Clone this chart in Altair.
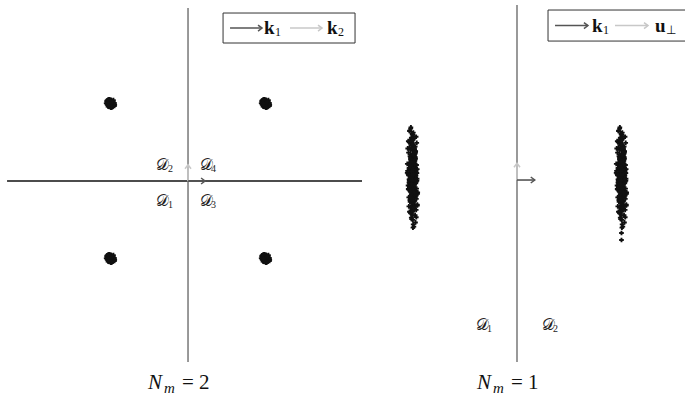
import altair as alt
import pandas as pd

SERIF = "Liberation Serif"
SCRIPT_D = "𝒟"
DARK = "#555555"
LIGHT = "#c8c8c8"
AXIS_GREY = "#808080"
AXIS_DARK = "#111111"
POINT = "#111111"

# standard-normal draws, typed out once and reused for every symbol cloud
NOISE_U = [
    0.12, -0.85, 1.34, -0.27, 0.63, -1.52, 0.05, 0.91, -0.44, 1.87,
    -0.09, -1.11, 0.38, 0.76, -0.68, 2.21, -0.31, 0.17, -1.93, 0.54,
    1.02, -0.57, 0.29, -0.02, -1.28, 0.84, 1.45, -0.73, 0.21, -0.36,
    0.69, -2.18, 0.47, 1.16, -0.95, 0.08, -0.19, 1.63, -1.39, 0.33,
    0.99, -0.61, -0.14, 0.58, -1.07, 1.25, -0.48, 0.03, 2.04, -0.81,
    0.41, -1.66, 0.72, -0.24, 1.38, -0.05, -0.89, 0.26, 0.87, -1.21,
    0.15, -0.52, 1.71, -0.33, 0.49, -2.43, 0.94, -0.11, 0.31, -0.77,
    1.09, -1.46, 0.57, 0.01, -0.63, 1.52, -0.28, -0.98, 0.66, 0.19,
    -1.74, 1.21, -0.41, 0.36, 0.81, -0.06, -1.33, 0.52, 1.94, -0.69,
    0.23, -0.16, 1.03, -0.91, 0.44, -1.58, 0.11, 0.74, -0.37, 2.37,
    -1.02, 0.28, 0.62, -0.53, -0.21, 1.29, -1.17, 0.39, 0.07, -0.83,
    1.57, -0.46, 0.97, -2.02, 0.18, -0.29, 0.85, -0.65, 1.13, -1.41,
    0.34, -0.04, 0.59, -0.97, 1.78, -0.23, -1.25, 0.46, 0.13, -0.58,
    1.06, -1.85, 0.71, -0.12, 0.25, -0.75, 1.41, -0.39, -1.05, 0.55,
    2.12, -0.17, 0.43, -1.49, 0.82, -0.32, 0.09, -0.71, 1.19, -1.13,
]
NOISE_V = [
    -0.42, 1.08, 0.27, -1.61, 0.73, -0.15, 1.49, -0.88, 0.04, -0.56,
    2.08, -1.19, 0.36, -0.03, 0.92, -1.37, -0.25, 0.61, 1.71, -0.79,
    -0.11, 0.48, -2.27, 0.83, 0.16, -0.64, 1.23, -0.35, 0.57, -1.02,
    -0.47, 1.36, 0.09, -1.83, 0.68, 0.22, -0.72, 1.92, -0.26, 0.44,
    -1.15, 0.78, -0.07, 1.14, -0.59, 0.31, -1.47, 0.95, -0.18, 2.31,
    -0.92, 0.13, 0.51, -1.26, 0.86, -0.38, 1.58, -0.01, -0.67, 0.39,
    -2.06, 1.01, -0.21, 0.64, -0.84, 0.19, 1.31, -1.54, 0.45, -0.13,
    0.77, -0.49, 1.84, -1.09, 0.02, -0.31, 0.96, -1.72, 0.53, 0.24,
    -0.61, 1.17, -0.44, -1.31, 0.71, 0.06, 2.19, -0.87, 0.35, -0.22,
    1.44, -1.06, 0.62, -0.09, -0.54, 1.67, -1.42, 0.28, 0.89, -0.74,
    -0.16, 1.27, -2.38, 0.42, 0.11, -0.96, 0.67, -0.28, 1.53, -0.62,
    0.17, -1.22, 0.93, -0.41, 2.01, -0.05, -0.83, 0.32, 1.11, -1.67,
    0.58, -0.19, 0.74, -1.12, 0.21, 1.62, -0.51, -0.34, 0.99, -1.95,
    0.47, 0.08, -0.69, 1.35, -0.27, 0.81, -1.38, 0.14, 1.76, -0.81,
    0.37, -0.12, -1.58, 0.63, 1.04, -0.46, 0.26, -1.01, 1.21, -0.23,
]

# ---------- left panel: N_m = 2 ----------
L_W, L_H = 370, 401
L_XDOM = [-2.426, 2.348]
L_YDOM = [-2.839, 2.336]
L_CENTERS_X = [-1.0, 1.0, -1.0, 1.0]
L_CENTERS_Y = [1.0, 1.0, -1.0, -1.0]
L_SIGMA = 0.023
L_REGION_SUB = ["1", "2", "3", "4"]
L_REGION_X = [-0.323, -0.323, 0.232, 0.232]
L_REGION_Y = [-0.258, 0.206, -0.258, 0.206]

# ---------- right panel: N_m = 1 ----------
R_W, R_H = 315, 401
R_XDOM = [-1.407, 1.608]
R_YDOM = [-2.115, 1.723]
R_CENTERS_X = [-1.0, 1.0]
R_CENTER_Y = 0.03
R_SIGMA_X = 0.021
R_SIGMA_Y = 0.2
R_STRAY_X = [1.0, 1.0]
R_STRAY_Y = [-0.507, -0.574]
R_REGION_SUB = ["1", "2"]
R_REGION_X = [-0.335, 0.297]
R_REGION_Y = [-1.388, -1.388]

CHEVRON = "M-1,-0.75L0,0L-1,0.75"


def build_panel(width, height, xdom, ydom, rules, heads, points, box,
                mains, subs, legend_keys, title_at, title_value):
    xs = alt.Scale(domain=xdom, nice=False, zero=False)
    ys = alt.Scale(domain=ydom, nice=False, zero=False)

    def X(f="x"):
        return alt.X(f"{f}:Q", scale=xs, axis=None)

    def Y(f="y"):
        return alt.Y(f"{f}:Q", scale=ys, axis=None)

    plain_rules = [r for r in rules if not r.get("legend")]
    legend_rules = [r for r in rules if r.get("legend")]

    layers = []
    layers.append(
        alt.Chart(pd.DataFrame(plain_rules)).mark_rule().encode(
            x=X(), x2="x2:Q", y=Y(), y2="y2:Q",
            color=alt.Color("c:N", scale=None),
            strokeWidth=alt.StrokeWidth("w:Q", scale=None),
        )
    )
    layers.append(
        alt.Chart(pd.DataFrame(points)).mark_point(
            shape="cross", filled=True, size=22, color=POINT, opacity=1
        ).encode(x=X(), y=Y())
    )
    layers.append(
        alt.Chart(pd.DataFrame([box])).mark_rect(
            fill="white", stroke="#333333", strokeWidth=1, clip=True
        ).encode(x=X(), x2="x2:Q", y=Y(), y2="y2:Q")
    )
    # legend arrow shafts sit on top of the legend box
    layers.append(
        alt.Chart(pd.DataFrame(legend_rules)).mark_rule().encode(
            x=X(), x2="x2:Q", y=Y(), y2="y2:Q",
            color=alt.Color("c:N", scale=None),
            strokeWidth=alt.StrokeWidth("w:Q", scale=None),
        )
    )
    layers.append(
        alt.Chart(pd.DataFrame(heads)).mark_point(
            shape=CHEVRON, filled=False, size=64, strokeWidth=1.5, opacity=1
        ).encode(
            x=X(), y=Y(),
            angle=alt.Angle("angle:Q", scale=None),
            color=alt.Color("c:N", scale=None),
        )
    )
    # region names  D_i
    layers.append(
        alt.Chart(pd.DataFrame(mains)).mark_text(
            font=SERIF, fontSize=16, align="center", baseline="middle", color="#222"
        ).encode(x=X(), y=Y(), text="t:N")
    )
    layers.append(
        alt.Chart(pd.DataFrame(subs)).mark_text(
            font=SERIF, fontSize=10, align="left", baseline="middle",
            dx=5, dy=4, color="#222"
        ).encode(x=X(), y=Y(), text="t:N")
    )
    # legend labels: bold vector name and its subscript
    layers.append(
        alt.Chart(pd.DataFrame(legend_keys)).mark_text(
            font=SERIF, fontSize=19, fontWeight="bold", align="left",
            baseline="middle", color="#111"
        ).encode(x=X(), y=Y(), text="t:N")
    )
    layers.append(
        alt.Chart(pd.DataFrame(legend_keys)).mark_text(
            font=SERIF, fontSize=12, align="left", baseline="middle",
            dx=11, dy=4, color="#111"
        ).encode(x=X(), y=Y(), text="s:N")
    )
    # panel caption  N_m = value
    tdf = pd.DataFrame([{"x": title_at[0], "y": title_at[1],
                         "n": "N", "m": "m", "v": f"= {title_value}"}])
    layers.append(
        alt.Chart(tdf).mark_text(
            font=SERIF, fontSize=21, fontStyle="italic", align="left",
            baseline="alphabetic", color="#111"
        ).encode(x=X(), y=Y(), text="n:N")
    )
    layers.append(
        alt.Chart(tdf).mark_text(
            font=SERIF, fontSize=15, fontStyle="italic", align="left",
            baseline="alphabetic", dx=16, dy=4, color="#111"
        ).encode(x=X(), y=Y(), text="m:N")
    )
    layers.append(
        alt.Chart(tdf).mark_text(
            font=SERIF, fontSize=21, align="left",
            baseline="alphabetic", dx=34, color="#111"
        ).encode(x=X(), y=Y(), text="v:N")
    )
    return alt.layer(*layers).properties(width=width, height=height)


# ----- left panel data -----
left_points = []
for cx, cy in zip(L_CENTERS_X, L_CENTERS_Y):
    for u, v in zip(NOISE_U, NOISE_V):
        left_points.append({"x": cx + L_SIGMA * u, "y": cy + L_SIGMA * v})

left_rules = [
    {"x": -2.335, "x2": 2.245, "y": 0.0, "y2": 0.0, "c": AXIS_DARK, "w": 1.4},
    {"x": 0.0, "x2": 0.0, "y": -2.335, "y2": 2.232, "c": AXIS_GREY, "w": 1.6},
    {"x": 0.0, "x2": 0.0, "y": 0.0, "y2": 0.21, "c": LIGHT, "w": 1.6},
    {"x": 0.0, "x2": 0.22, "y": 0.0, "y2": 0.0, "c": DARK, "w": 1.6},
    {"x": 0.542, "x2": 0.955, "y": 1.974, "y2": 1.974, "c": DARK, "w": 1.5, "legend": True},
    {"x": 1.316, "x2": 1.729, "y": 1.974, "y2": 1.974, "c": LIGHT, "w": 1.5, "legend": True},
]
left_heads = [
    {"x": 0.0, "y": 0.21, "angle": 270, "c": LIGHT},
    {"x": 0.22, "y": 0.0, "angle": 0, "c": DARK},
    {"x": 0.955, "y": 1.974, "angle": 0, "c": DARK},
    {"x": 1.729, "y": 1.974, "angle": 0, "c": LIGHT},
]
left_box = {"x": 0.452, "x2": 2.155, "y": 1.781, "y2": 2.168}
left_mains = [{"x": x, "y": y, "t": SCRIPT_D} for x, y in zip(L_REGION_X, L_REGION_Y)]
left_subs = [{"x": x, "y": y, "t": s} for x, y, s in zip(L_REGION_X, L_REGION_Y, L_REGION_SUB)]
left_keys = [
    {"x": 0.981, "y": 1.974, "t": "k", "s": "1"},
    {"x": 1.794, "y": 1.974, "t": "k", "s": "2"},
]

left = build_panel(
    L_W, L_H, L_XDOM, L_YDOM,
    left_rules, left_heads, left_points, left_box,
    left_mains, left_subs, left_keys, (-0.516, -2.684), 2,
)

# ----- right panel data -----
right_points = []
for cx in R_CENTERS_X:
    for u, v in list(zip(NOISE_U, NOISE_V)) + list(zip(NOISE_V, NOISE_U)):
        right_points.append({"x": cx + R_SIGMA_X * u, "y": R_CENTER_Y + R_SIGMA_Y * v})
for sx, sy in zip(R_STRAY_X, R_STRAY_Y):
    right_points.append({"x": sx, "y": sy})

right_rules = [
    {"x": 0.0, "x2": 0.0, "y": -1.742, "y2": 1.675, "c": AXIS_GREY, "w": 1.6},
    {"x": 0.0, "x2": 0.0, "y": 0.0, "y2": 0.16, "c": LIGHT, "w": 1.6},
    {"x": 0.0, "x2": 0.17, "y": 0.0, "y2": 0.0, "c": DARK, "w": 1.6},
    {"x": 0.364, "x2": 0.679, "y": 1.478, "y2": 1.478, "c": DARK, "w": 1.5, "legend": True},
    {"x": 0.938, "x2": 1.254, "y": 1.478, "y2": 1.478, "c": LIGHT, "w": 1.5, "legend": True},
]
right_heads = [
    {"x": 0.0, "y": 0.16, "angle": 270, "c": LIGHT},
    {"x": 0.17, "y": 0.0, "angle": 0, "c": DARK},
    {"x": 0.679, "y": 1.478, "angle": 0, "c": DARK},
    {"x": 1.254, "y": 1.478, "angle": 0, "c": LIGHT},
]
right_box = {"x": 0.297, "x2": 1.75, "y": 1.330, "y2": 1.627}
right_mains = [{"x": x, "y": y, "t": SCRIPT_D} for x, y in zip(R_REGION_X, R_REGION_Y)]
right_subs = [{"x": x, "y": y, "t": s} for x, y, s in zip(R_REGION_X, R_REGION_Y, R_REGION_SUB)]
right_keys = [
    {"x": 0.718, "y": 1.478, "t": "k", "s": "1"},
    {"x": 1.321, "y": 1.478, "t": "u", "s": "⊥"},
]

right = build_panel(
    R_W, R_H, R_XDOM, R_YDOM,
    right_rules, right_heads, right_points, right_box,
    right_mains, right_subs, right_keys, (-0.383, -2.0), 1,
)

chart = (
    alt.hconcat(left, right, spacing=0, padding=0, background="white")
    .configure_view(stroke=None)
)

chart.save("out.html", embed_options={"renderer": "svg", "actions": False})
